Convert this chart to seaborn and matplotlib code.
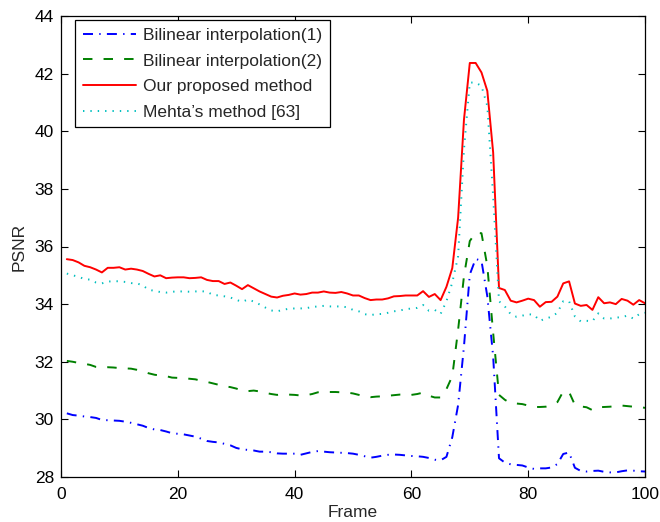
import numpy as np
import pandas as pd
import matplotlib
matplotlib.use("Agg")
import matplotlib.pyplot as plt
import seaborn as sns

frames = list(range(1, 101))

bilinear1 = [30.21, 30.15, 30.13, 30.10, 30.08, 30.05, 29.98, 29.97, 29.96, 29.95,
             29.92, 29.88, 29.83, 29.78, 29.70, 29.65, 29.63, 29.58, 29.52, 29.50,
             29.48, 29.44, 29.40, 29.33, 29.25, 29.22, 29.20, 29.15, 29.10, 29.01,
             28.96, 28.94, 28.92, 28.88, 28.88, 28.86, 28.82, 28.81, 28.81, 28.81,
             28.77, 28.82, 28.87, 28.90, 28.88, 28.86, 28.85, 28.84, 28.83, 28.81,
             28.77, 28.72, 28.67, 28.70, 28.74, 28.77, 28.78, 28.77, 28.75, 28.73,
             28.72, 28.70, 28.66, 28.60, 28.58, 28.70, 29.38, 30.50, 32.53, 35.03,
             35.57, 35.50, 34.27, 32.18, 28.65, 28.50, 28.44, 28.42, 28.40, 28.33,
             28.28, 28.30, 28.30, 28.33, 28.45, 28.80, 28.85, 28.32, 28.21, 28.19,
             28.21, 28.22, 28.18, 28.16, 28.16, 28.20, 28.23, 28.22, 28.20, 28.19]

bilinear2 = [32.03, 32.00, 31.96, 31.93, 31.89, 31.82, 31.80, 31.81, 31.80, 31.78,
             31.77, 31.76, 31.72, 31.67, 31.60, 31.55, 31.52, 31.50, 31.45, 31.44,
             31.43, 31.41, 31.39, 31.34, 31.30, 31.25, 31.20, 31.15, 31.12, 31.07,
             31.00, 30.98, 31.00, 30.97, 30.92, 30.88, 30.85, 30.87, 30.86, 30.85,
             30.83, 30.84, 30.88, 30.94, 30.95, 30.95, 30.95, 30.94, 30.93, 30.90,
             30.85, 30.80, 30.77, 30.79, 30.80, 30.82, 30.84, 30.86, 30.86, 30.85,
             30.88, 30.93, 30.82, 30.76, 30.76, 31.05, 31.50, 33.11, 34.97, 36.19,
             36.48, 36.46, 35.32, 33.00, 30.85, 30.68, 30.56, 30.55, 30.53, 30.48,
             30.43, 30.43, 30.44, 30.50, 30.60, 30.97, 30.95, 30.50, 30.45, 30.42,
             30.32, 30.42, 30.43, 30.44, 30.46, 30.48, 30.46, 30.44, 30.43, 30.40]

proposed = [35.56, 35.53, 35.45, 35.33, 35.28, 35.20, 35.10, 35.26, 35.26, 35.28,
            35.20, 35.23, 35.20, 35.15, 35.05, 34.96, 35.00, 34.90, 34.92, 34.93,
            34.93, 34.90, 34.91, 34.93, 34.84, 34.80, 34.80, 34.70, 34.75, 34.64,
            34.52, 34.66, 34.55, 34.44, 34.35, 34.26, 34.23, 34.29, 34.32, 34.37,
            34.33, 34.35, 34.40, 34.40, 34.44, 34.40, 34.39, 34.42, 34.37, 34.30,
            34.30, 34.21, 34.14, 34.16, 34.16, 34.20, 34.27, 34.28, 34.30, 34.30,
            34.30, 34.45, 34.25, 34.35, 34.14, 34.60, 35.25, 37.00, 40.40, 42.37,
            42.37, 42.04, 41.40, 39.26, 34.56, 34.49, 34.12, 34.06, 34.12, 34.19,
            34.14, 33.91, 34.07, 34.08, 34.26, 34.72, 34.79, 34.02, 33.94, 33.97,
            33.80, 34.24, 34.03, 34.06, 34.00, 34.18, 34.12, 33.98, 34.14, 34.03]

mehta = [35.06, 35.00, 34.95, 34.87, 34.85, 34.75, 34.72, 34.78, 34.80, 34.79,
         34.77, 34.73, 34.72, 34.65, 34.50, 34.46, 34.42, 34.40, 34.43, 34.44,
         34.44, 34.43, 34.44, 34.45, 34.43, 34.32, 34.30, 34.27, 34.23, 34.15,
         34.08, 34.16, 34.09, 33.99, 33.88, 33.78, 33.75, 33.80, 33.84, 33.85,
         33.85, 33.86, 33.90, 33.92, 33.94, 33.92, 33.92, 33.92, 33.89, 33.80,
         33.75, 33.65, 33.62, 33.65, 33.66, 33.70, 33.75, 33.78, 33.82, 33.85,
         33.87, 33.97, 33.77, 33.80, 33.66, 34.10, 34.75, 35.66, 39.37, 41.69,
         41.69, 41.57, 40.88, 37.75, 34.10, 33.92, 33.65, 33.56, 33.60, 33.65,
         33.63, 33.42, 33.50, 33.56, 33.70, 34.10, 34.10, 33.57, 33.40, 33.42,
         33.41, 33.68, 33.50, 33.50, 33.53, 33.55, 33.60, 33.50, 33.65, 33.70]

labels = ["Bilinear interpolation(1)", "Bilinear interpolation(2)",
          "Our proposed method", "Mehta\u2019s method [63]"]
xticks = [0, 20, 40, 60, 80, 100]
yticks = [28, 30, 32, 34, 36, 38, 40, 42, 44]

sns.set_style("ticks")
plt.rcParams["font.family"] = ["Liberation Sans", "DejaVu Sans"]
plt.rcParams["lines.scale_dashes"] = False
plt.rcParams["xtick.direction"] = "in"
plt.rcParams["ytick.direction"] = "in"

fig = plt.figure(figsize=(6.6, 5.22), dpi=100)
ax = fig.add_axes([61 / 660, 1 - 477 / 522, 584 / 660, 461 / 522])

series = [bilinear1, bilinear2, proposed, mehta]
colors = ["#0000ff", "#008000", "#ff0000", "#00bfbf"]
styles = [(0, (7.2, 4.5, 1.0, 4.5)), (0, (6.8, 8.0)), "-", (0, (1.0, 4.3))]

for vals, lab, col, ls in zip(series, labels, colors, styles):
    df = pd.DataFrame({"Frame": frames, "PSNR": vals})
    sns.lineplot(data=df, x="Frame", y="PSNR", ax=ax, color=col, linestyle=ls,
                 linewidth=1.4, label=lab)

ax.set_xlim(0, 100)
ax.set_ylim(28, 44)
ax.set_xticks(xticks)
ax.set_yticks(yticks)
ax.tick_params(axis="both", which="both", top=True, right=True, length=5,
               width=0.8, labelsize=12.5, colors="black", pad=5)
ax.tick_params(axis="x", pad=7)
for s in ax.spines.values():
    s.set_visible(True)
    s.set_color("black")
    s.set_linewidth(0.9)
ax.set_xlabel("Frame", fontsize=12.5, labelpad=2.5)
ax.set_ylabel("PSNR", fontsize=12.5, labelpad=6)

leg = ax.legend(loc="upper left", bbox_to_anchor=(14 / 584, 1 - 4 / 461),
                borderaxespad=0, fontsize=12.5, frameon=True, fancybox=False,
                handlelength=3.05, handletextpad=0.4, labelspacing=0.6,
                borderpad=0.45)
leg.get_frame().set_edgecolor("black")
leg.get_frame().set_linewidth(0.9)
leg.get_frame().set_alpha(1)

fig.savefig("out.png", dpi=100)
